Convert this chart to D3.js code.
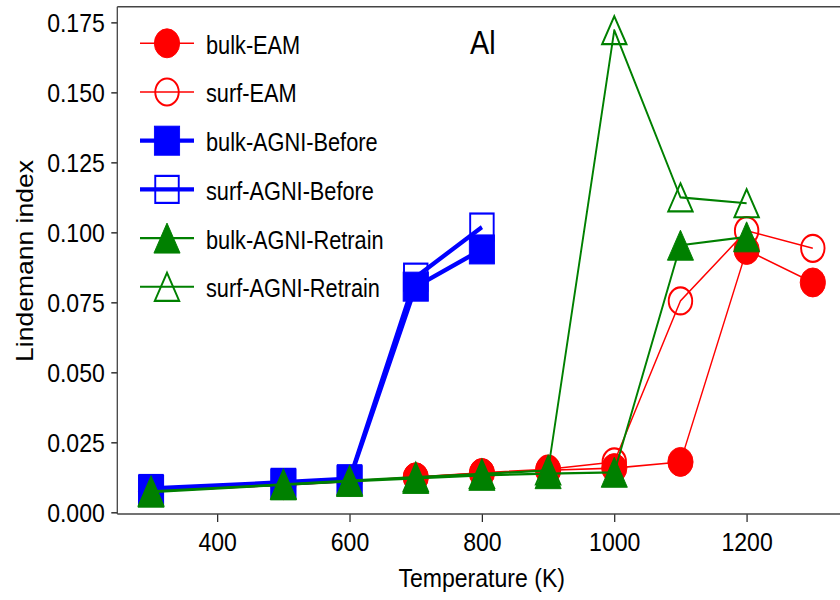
<!DOCTYPE html>
<html>
<head>
<meta charset="utf-8">
<script src="https://cdn.jsdelivr.net/npm/d3@7"></script>
<style>
  html, body { margin: 0; padding: 0; background: #fff; }
  svg { display: block; }
  text { font-family: "Liberation Sans", Arial, Helvetica, sans-serif; fill: #000; }
</style>
</head>
<body>
<script>
// ---- data ----
const temps = [300, 500, 600, 700, 800, 900, 1000, 1100, 1200, 1300];
const tempsBefore = [300, 500, 600, 700, 800];
const tempsRetrain = [300, 500, 600, 700, 800, 900, 1000, 1100, 1200];

const bulkEAM = [0.0075, 0.0097, 0.0110, 0.0125, 0.0140, 0.0150, 0.0158, 0.0180, 0.0937, 0.0821];
const surfEAM = [0.0078, 0.0099, 0.0112, 0.0126, 0.0141, 0.0154, 0.0180, 0.0755, 0.1006, 0.0943];
const bulkBefore = [0.0080, 0.0103, 0.0115, 0.0806, 0.0939];
const surfBefore = [0.0085, 0.0107, 0.0120, 0.0840, 0.1019];
const bulkRetrain = [0.0072, 0.0098, 0.0110, 0.0121, 0.0132, 0.0138, 0.0143, 0.0954, 0.0984];
const surfRetrain = [0.0075, 0.0100, 0.0113, 0.0126, 0.0137, 0.0150, 0.1722, 0.1125, 0.1104];

const xTicks = [400, 600, 800, 1000, 1200];
const yTicks = [0, 0.025, 0.05, 0.075, 0.1, 0.125, 0.15, 0.175];

const seriesNames = ["bulk-EAM", "surf-EAM", "bulk-AGNI-Before", "surf-AGNI-Before", "bulk-AGNI-Retrain", "surf-AGNI-Retrain"];
const seriesX = [temps, temps, tempsBefore, tempsBefore, tempsRetrain, tempsRetrain];
const seriesY = [bulkEAM, surfEAM, bulkBefore, surfBefore, bulkRetrain, surfRetrain];
const seriesColor = ["#ff0000", "#ff0000", "#0000ff", "#0000ff", "#008000", "#008000"];
const seriesShape = ["circle", "circle", "square", "square", "triangle", "triangle"];
const seriesFilled = [true, false, true, false, true, false];
const seriesLW = [1.6, 1.6, 4.5, 4.5, 2.2, 2.2];

// ---- layout ----
const W = 840, H = 600;
const sx = 0.87;              // horizontal squeeze of the original picture
const X = px => px / sx;
const FS = 26.5;
const FSL = 25;

const svg = d3.select("body").append("svg").attr("width", W).attr("height", H);
const g = svg.append("g").attr("transform", `scale(${sx},1)`);

const x = d3.scaleLinear().domain([249, 1350]).range([X(117.3), X(845.9)]);
const y = d3.scaleLinear().domain([-0.0006, 0.1806]).range([514, 6.7]);

// clip
svg.append("defs").append("clipPath").attr("id", "clip")
  .append("rect").attr("x", X(117.3)).attr("y", 6.7)
  .attr("width", X(845.9) - X(117.3)).attr("height", 514 - 6.7);

// axes
const xAxis = d3.axisBottom(x).tickValues(xTicks).tickFormat(d3.format("d"))
  .tickSize(8).tickSizeOuter(0).tickPadding(10);
const gx = g.append("g").attr("transform", "translate(0,514)").call(xAxis);
gx.select(".domain").remove();
gx.selectAll(".tick line").attr("stroke", "#222").attr("stroke-width", 1.4);
gx.selectAll(".tick text").style("font-size", FS + "px").attr("fill", "#000");

const yAxis = d3.axisLeft(y).tickValues(yTicks).tickFormat(d3.format(".3f"))
  .tickSize(X(6)).tickSizeOuter(0).tickPadding(X(6.5));
const gy = g.append("g").attr("transform", `translate(${X(117.3)},0)`).call(yAxis);
gy.select(".domain").remove();
gy.selectAll(".tick line").attr("stroke", "#222").attr("stroke-width", 1.4);
gy.selectAll(".tick text").style("font-size", FS + "px").attr("fill", "#000").attr("dy", "0.36em");

// spines
const spine = g.append("g").attr("stroke", "#444").attr("stroke-width", 1.5).attr("fill", "none");
spine.append("line").attr("x1", X(117.3)).attr("x2", X(117.3)).attr("y1", 6.7).attr("y2", 514);
spine.append("line").attr("x1", X(117.3)).attr("x2", X(845.9)).attr("y1", 514).attr("y2", 514);
spine.append("line").attr("x1", X(117.3)).attr("x2", X(845.9)).attr("y1", 6.7).attr("y2", 6.7);
spine.append("line").attr("x1", X(845.9)).attr("x2", X(845.9)).attr("y1", 6.7).attr("y2", 514);

// marker drawing
const R = 14.5;
function drawMarker(sel, shape, cx, cy, color, filled) {
  let m;
  if (shape === "circle") {
    m = sel.append("circle").attr("cx", cx).attr("cy", cy).attr("r", filled ? R : R - 1);
  } else if (shape === "square") {
    const s = filled ? R : R - 1;
    m = sel.append("rect").attr("x", cx - s).attr("y", cy - s).attr("width", 2 * s).attr("height", 2 * s);
  } else {
    const s = filled ? R + 0.5 : R - 0.5;
    m = sel.append("path").attr("d", `M${cx},${cy - s}L${cx + s},${cy + s}L${cx - s},${cy + s}Z`);
  }
  m.attr("fill", filled ? color : "none").attr("stroke", color).attr("stroke-width", filled ? 1 : 2.2);
  return m;
}

// series
const plot = g.append("g").attr("clip-path", "url(#clip)");
const line = d3.line().x(d => x(d[0])).y(d => y(d[1]));
seriesNames.forEach((name, i) => {
  const pts = seriesX[i].map((t, j) => [t, seriesY[i][j]]);
  const sg = plot.append("g");
  sg.append("path").datum(pts).attr("d", line).attr("fill", "none")
    .attr("stroke", seriesColor[i]).attr("stroke-width", seriesLW[i]).attr("stroke-linejoin", "round");
  pts.forEach(p => drawMarker(sg, seriesShape[i], x(p[0]), y(p[1]), seriesColor[i], seriesFilled[i]));
});

// axis labels
g.append("text").attr("x", X(481.7)).attr("y", 586.7).attr("text-anchor", "middle")
  .style("font-size", FS + "px").text("Temperature (K)");
g.append("text").attr("transform", `translate(${X(33)},261) rotate(-90)`).attr("text-anchor", "middle")
  .style("font-size", FS + "px").text("Lindemann index");

// annotation
g.append("text").attr("x", X(470)).attr("y", 54.3).style("font-size", "33px").text("Al");

// legend
const leg = g.append("g");
seriesNames.forEach((name, i) => {
  const cy = 43.3 + i * 48.7;
  leg.append("line").attr("x1", X(140)).attr("x2", X(194)).attr("y1", cy).attr("y2", cy)
    .attr("stroke", seriesColor[i]).attr("stroke-width", seriesLW[i] * 0.95);
  drawMarker(leg, seriesShape[i], X(167), cy, seriesColor[i], seriesFilled[i]);
  leg.append("text").attr("x", X(206)).attr("y", cy + 10.5).style("font-size", FSL + "px").text(name);
});
</script>
</body>
</html>
